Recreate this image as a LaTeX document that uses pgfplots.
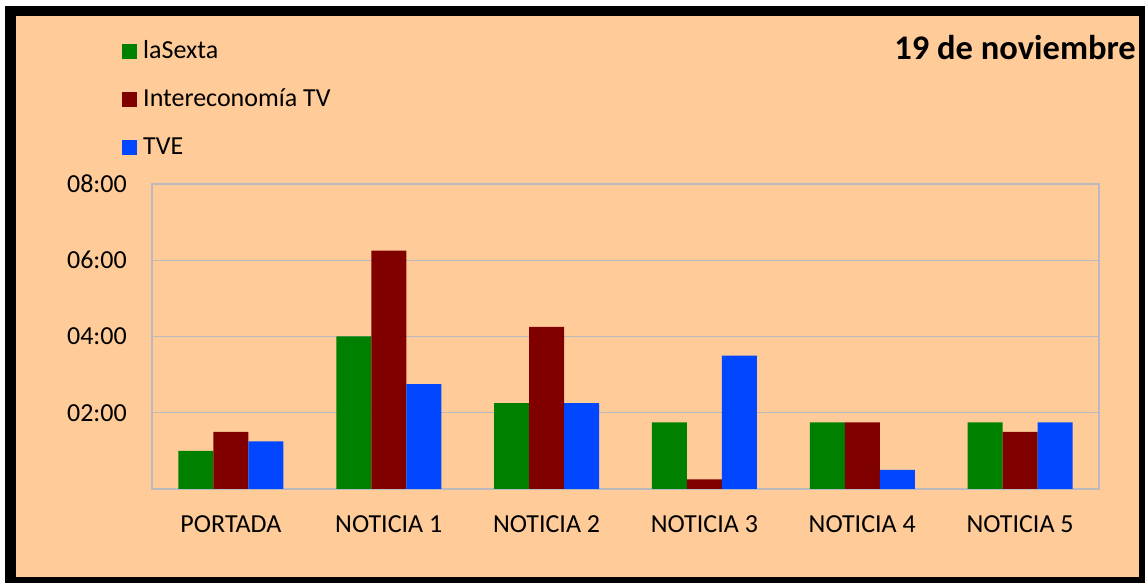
\documentclass[border=0pt]{standalone}
\usepackage{fontspec}
\setmainfont{Carlito}
\usepackage{pgfplots}
\pgfplotsset{compat=1.18}
\definecolor{peach}{RGB}{255,204,153}
\definecolor{cgreen}{RGB}{0,128,0}
\definecolor{cred}{RGB}{128,0,0}
\definecolor{cblue}{RGB}{0,71,255}
\definecolor{cgrid}{RGB}{185,185,190}
\begin{document}
\begin{tikzpicture}
\path[use as bounding box] (0,0) rectangle (1148bp,583bp);
\fill[white] (0,0) rectangle (1148bp,583bp);
\fill[black] (5bp,0bp) rectangle (1145bp,577bp);
\fill[peach] (16bp,6bp) rectangle (1139bp,567bp);
\begin{axis}[
  at={(152bp,94bp)}, anchor=south west,
  scale only axis, width=947bp, height=305bp,
  xmin=-0.5, xmax=5.5, ymin=0, ymax=8,
  ybar=0pt, bar width=35bp,
  axis line style={cgrid, line width=1.2bp},
  ymajorgrids,
  grid style={cgrid, line width=1.2bp},
  ytick={2,4,6,8}, yticklabels={02:00,04:00,06:00,08:00},
  xtick={0,1,2,3,4,5},
  xticklabels={PORTADA,NOTICIA 1,NOTICIA 2,NOTICIA 3,NOTICIA 4,NOTICIA 5},
  major tick length=0pt,
  /pgf/number format/assume math mode=true,
  tick label style={font=\fontsize{26bp}{30bp}\selectfont, inner sep=0pt, text=black},
  yticklabel style={anchor=east, xshift=-25bp},
  xticklabel style={anchor=base, yshift=-43bp},
  legend style={at={(0,1)}, anchor=north west, xshift=-30bp, yshift=144bp,
    draw=none, fill=none, inner sep=0pt, row sep=25bp, column sep=6bp,
    font=\fontsize{26bp}{30bp}\selectfont,
    nodes={inner sep=0pt, text height=18bp, text depth=5bp}},
  legend cell align=left,
  legend image code/.code={\fill[#1] (0bp,-7.5bp) rectangle (15bp,7.5bp);},
]
\addplot[fill=cgreen, draw=none] coordinates {(0,1) (1,4) (2,2.25) (3,1.75) (4,1.75) (5,1.75)};
\addlegendentry{laSexta}
\addplot[fill=cred, draw=none] coordinates {(0,1.5) (1,6.25) (2,4.25) (3,0.25) (4,1.75) (5,1.5)};
\addlegendentry{Intereconomía TV}
\addplot[fill=cblue, draw=none] coordinates {(0,1.25) (1,2.75) (2,2.25) (3,3.5) (4,0.5) (5,1.75)};
\addlegendentry{TVE}
\end{axis}
\node[anchor=base east, font=\fontsize{34.5bp}{40bp}\selectfont\bfseries, inner sep=0pt] at (1136bp,523bp) {19 de noviembre};
\end{tikzpicture}
\end{document}
